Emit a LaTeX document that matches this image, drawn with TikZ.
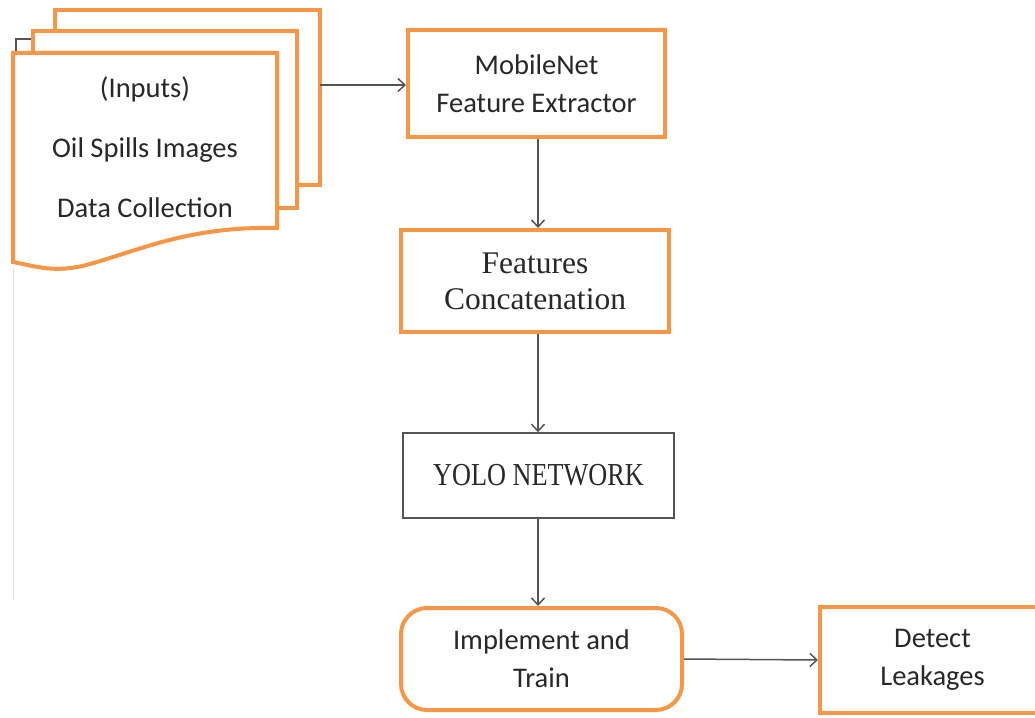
\documentclass[tikz,border=0pt]{standalone}
\usepackage{fontspec}
\setmainfont{Carlito}
\newfontfamily\timesf{Liberation Serif}
\usetikzlibrary{arrows.meta}
\definecolor{boxorange}{RGB}{247,150,70}
\definecolor{lineg}{RGB}{85,85,85}
\definecolor{txt}{RGB}{40,40,40}
\tikzset{
  obox/.style={draw=boxorange, line width=4pt, fill=white, align=center, inner sep=0pt, text=txt},
  gbox/.style={draw=lineg, line width=1.5pt, fill=white, align=center, inner sep=0pt, text=txt},
  cal/.style={font=\fontsize{28.5}{38}\selectfont},
  tms/.style={font=\timesf\fontsize{31.5}{36}\selectfont},
  flow/.style={draw=lineg, line width=1.5pt, -{Straight Barb[length=7pt,width=13pt,line width=1.5pt]}},
  sheet/.style={draw=boxorange, line width=4pt, fill=white, line join=miter}
}
\begin{document}
\begin{tikzpicture}[x=1pt,y=-1pt]
\useasboundingbox (0,0) rectangle (1035,717);
\begin{scope}
\clip (0,0) rectangle (1035,717);
% faint artefact lines
\draw[lineg, line width=1.2pt] (16,53) -- (16,39) -- (33,39);
\draw[black!12, line width=1pt] (13,268) -- (13,600);
% stacked documents
\draw[sheet] (55,10) rectangle (320,185);
\draw[sheet] (33,31) rectangle (297,208);
\draw[sheet] (13,53) -- (277,53) -- (277,228)
  .. controls (190,226) and (140,250) .. (90,264)
  .. controls (55,274) and (35,266) .. (13,262) -- cycle;
\coordinate (docout) at (320,85);
\node[cal, align=center, text=txt] (docs) at (145,147) {(Inputs)\\[22pt]Oil Spills Images\\[22pt]Data Collection};
% boxes
\node[obox, cal, minimum width=257pt, minimum height=107pt] (mob) at (536.5,83.5) {MobileNet\\Feature Extractor};
\node[obox, tms, minimum width=268pt, minimum height=102pt] (feat) at (535,281) {Features\\Concatenation};
\node[gbox, minimum width=271pt, minimum height=85pt] (yolo) at (538.5,475.5) {\timesf\fontsize{32}{36}\selectfont\scalebox{0.82}[1]{YOLO NETWORK}};
\node[obox, cal, rounded corners=26pt, minimum width=281pt, minimum height=102pt] (impl) at (541.5,659) {Implement and\\Train};
\node[obox, cal, minimum width=225pt, minimum height=106pt] (det) at (932.5,660) {Detect\\Leakages};
% connectors
\draw[flow] (docout) -- (mob.west |- docout);
\draw[flow] (mob.south -| 538,0) -- (feat.north -| 538,0);
\draw[flow] (feat.south -| 538,0) -- (yolo.north -| 538,0);
\draw[flow] (yolo.south -| 538,0) -- (impl.north -| 538,0);
\draw[flow] (impl.east) -- (det.west);
\end{scope}
\end{tikzpicture}
\end{document}
